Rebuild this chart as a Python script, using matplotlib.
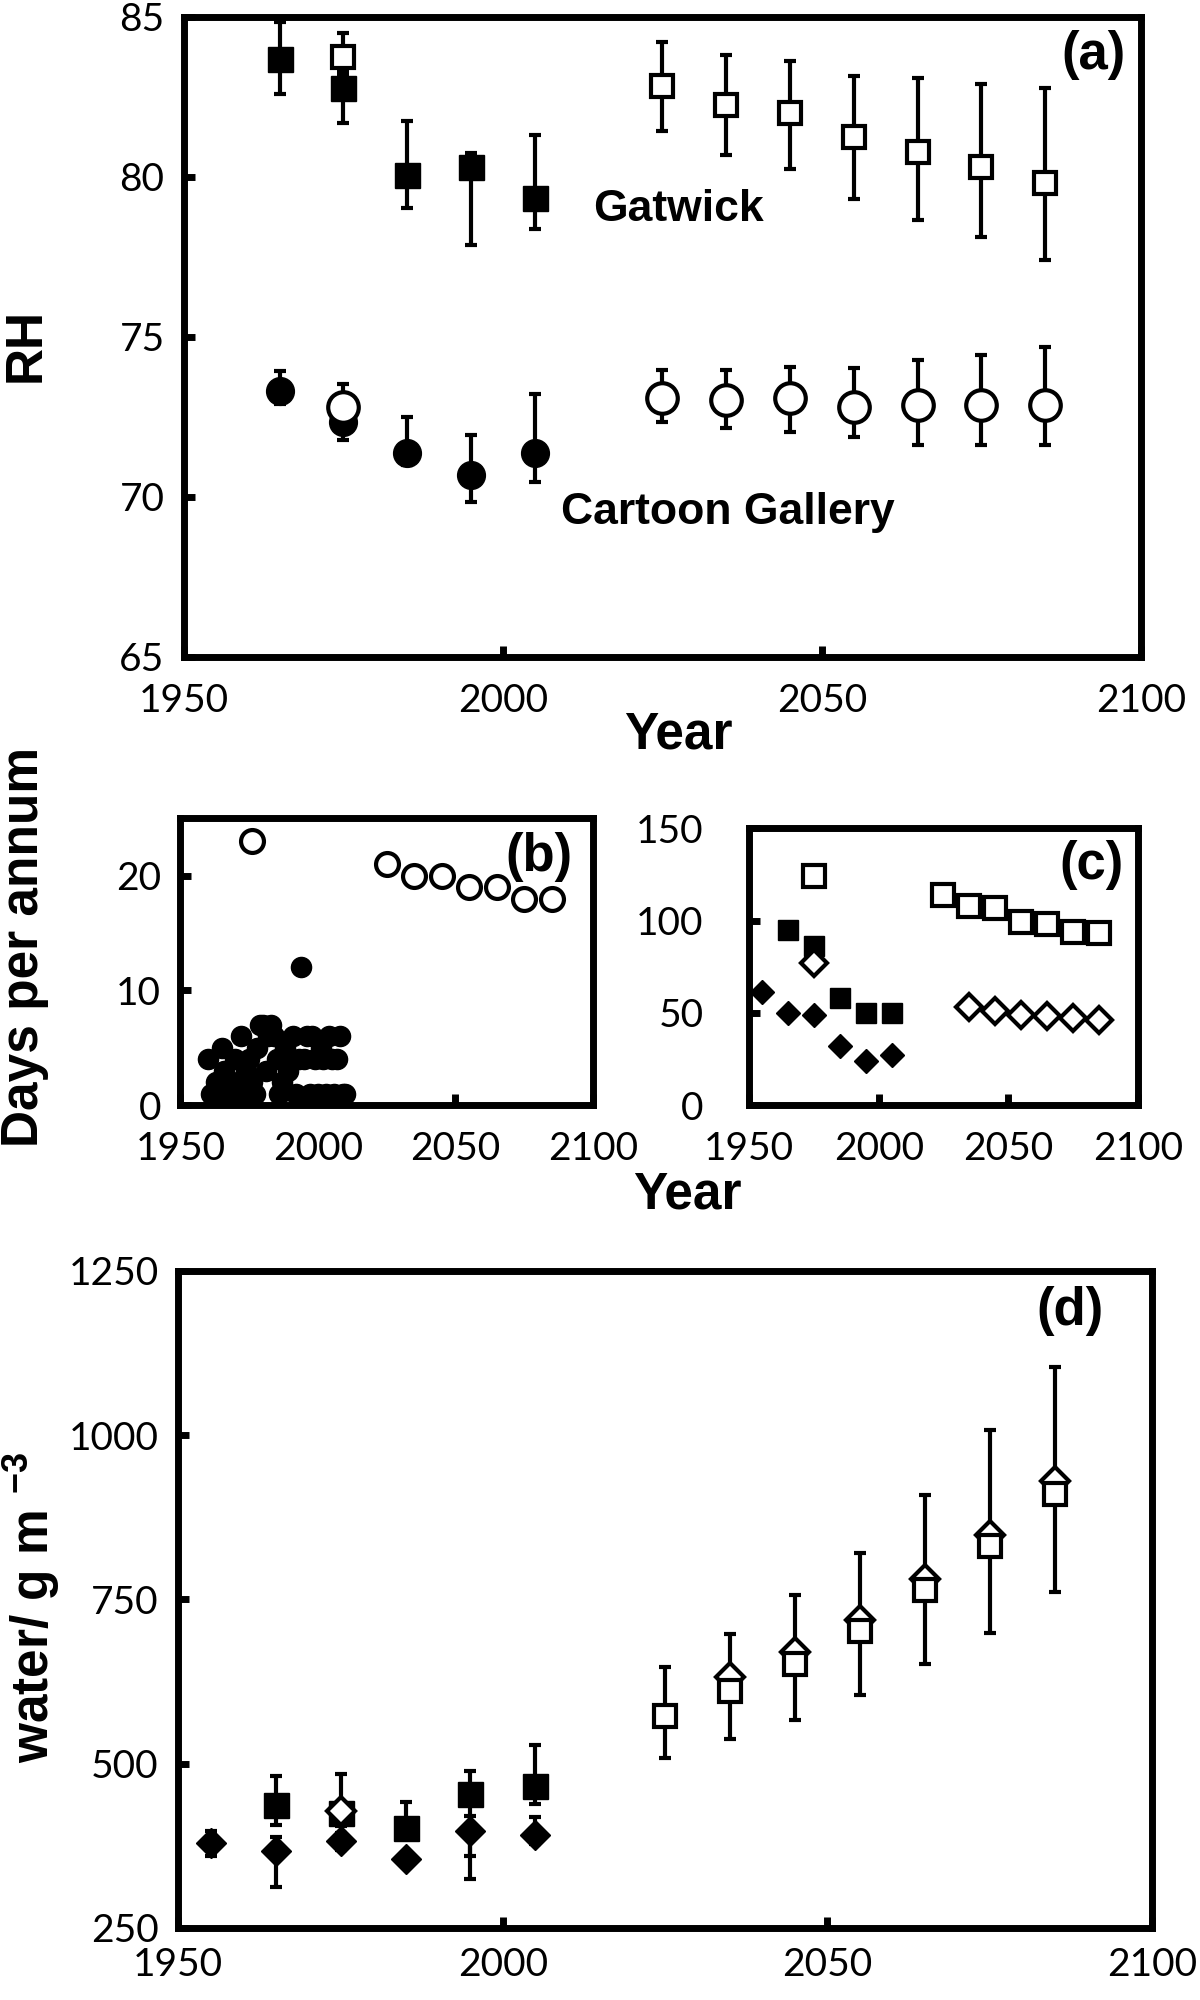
import numpy as np
import matplotlib.pyplot as plt

plt.rcParams['font.family'] = ['Liberation Sans', 'DejaVu Sans']
plt.rcParams['mathtext.fontset'] = 'custom'
plt.rcParams['mathtext.rm'] = 'Liberation Sans'
plt.rcParams['mathtext.bf'] = 'Liberation Sans:bold'

# ---- (a) RH ----
years_past = [1965, 1975, 1985, 1995, 2005]
years_fut = [2025, 2035, 2045, 2055, 2065, 2075, 2085]

gat_past = [83.67, 82.76, 80.05, 80.31, 79.33]
gat_past_lo = [82.58, 81.69, 79.01, 77.87, 78.36]
gat_past_hi = [84.84, 83.3, 81.75, 80.73, 81.30]
gat_open_1975 = [83.75]
gat_open_1975_lo = [83.2]
gat_open_1975_hi = [84.48]
gat_fut = [82.83, 82.24, 81.98, 81.25, 80.78, 80.31, 79.81]
gat_fut_lo = [81.44, 80.66, 80.24, 79.30, 78.65, 78.11, 77.40]
gat_fut_hi = [84.22, 83.80, 83.62, 83.13, 83.07, 82.89, 82.76]

cg_past = [73.31, 72.34, 71.36, 70.68, 71.36]
cg_past_lo = [72.9, 71.77, 71.0, 69.84, 70.47]
cg_past_hi = [73.94, 72.8, 72.5, 71.93, 73.2]
cg_open_1975 = [72.81]
cg_open_1975_lo = [72.4]
cg_open_1975_hi = [73.51]
cg_fut = [73.07, 73.02, 73.07, 72.81, 72.87, 72.87, 72.87]
cg_fut_lo = [72.34, 72.14, 72.03, 71.87, 71.62, 71.62, 71.62]
cg_fut_hi = [73.96, 73.96, 74.06, 74.01, 74.27, 74.42, 74.69]

# ---- (b) days per annum, Cartoon Gallery ----
b_obs_years = list(range(1960, 2011))
b_obs_days = [4, 1, 1, 2, 1, 5, 3, 1, 2, 1, 4, 2, 6, 1, 3, 4, 2, 1, 5, 7,
              7, 3, 6, 7, 6, 4, 1, 2, 5, 3, 4, 6, 1, 4, 12, 4, 6, 1, 6, 4,
              1, 5, 4, 1, 6, 4, 1, 4, 6, 1, 1]
b_open_years = [1976, 2025, 2035, 2045, 2055, 2065, 2075, 2085]
b_open_days = [23, 21, 20, 20, 19, 19, 18, 18]

# ---- (c) days per annum, Gatwick ----
c_dia_years = [1955, 1965, 1975, 1985, 1995, 2005]
c_dia_past = [61, 50, 49, 32, 24, 27]
c_sq_past = [95, 86, 58, 50, 50]
c_open_sq_1975 = [124]
c_open_dia_1975 = [77]
c_sq_fut = [114, 108, 107, 99, 98, 94, 93]
c_dia_fut_years = [2035, 2045, 2055, 2065, 2075, 2085]
c_dia_fut = [53, 51, 49, 48, 47, 46]

# ---- (d) water ----
d_sq_past = [437, 425, 402, 454, 466]
d_sq_past_lo = [407, 405, 388, 360, 439]
d_sq_past_hi = [481, 440, 442, 489, 529]
d_dia_years = [1955, 1965, 1975, 1985, 1995, 2005]
d_dia_past = [380, 367, 382, 355, 397, 391]
d_dia_past_lo = [360, 313, 368, 348, 325, 378]
d_dia_past_hi = [398, 389, 395, 362, 420, 419]
d_open_dia_1975 = [428]
d_open_dia_1975_lo = [415]
d_open_dia_1975_hi = [484]
d_sq_fut = [573, 610, 652, 702, 764, 831, 910]
d_sq_fut_lo = [508, 538, 566, 605, 651, 699, 761]
d_sq_fut_hi = [647, 697, 756, 821, 908, 1007, 1104]
d_dia_fut_years = [2035, 2045, 2055, 2065, 2075, 2085]
d_dia_fut = [632, 670, 719, 781, 848, 930]


def errs(mid, lo, hi):
    mid = np.array(mid, float)
    return [mid - np.array(lo, float), np.array(hi, float) - mid]


eb = dict(ls='none', ecolor='black', elinewidth=3, capsize=4.5, capthick=3)
filled = dict(color='black', mec='black')
hollow = dict(mfc='white', mec='black', mew=3, color='black')


def style(ax, xpad=19, ypad=14):
    for s in ax.spines.values():
        s.set_linewidth(5)
    ax.tick_params(direction='in', length=8, width=5, labelsize=28,
                   labelfontfamily='Lato', top=False, right=False)
    ax.tick_params(axis='x', pad=xpad)
    ax.tick_params(axis='y', pad=ypad)
    ax.set_xlim(1950, 2100)
    ax.set_xticks([1950, 2000, 2050, 2100])


fig = plt.figure(figsize=(12, 20), dpi=100)

# (a)
ax = fig.add_axes([0.1533, 0.6717, 0.7975, 0.32])
style(ax)
ax.set_ylim(65, 85)
ax.set_yticks([65, 70, 75, 80, 85])
ax.errorbar(years_past, gat_past, yerr=errs(gat_past, gat_past_lo, gat_past_hi),
            fmt='s', ms=18, **filled, **eb)
ax.errorbar([1975], gat_open_1975, yerr=errs(gat_open_1975, gat_open_1975_lo, gat_open_1975_hi),
            fmt='s', ms=16, **hollow, **eb)
ax.errorbar(years_fut, gat_fut, yerr=errs(gat_fut, gat_fut_lo, gat_fut_hi),
            fmt='s', ms=16, **hollow, **eb)
ax.errorbar(years_past, cg_past, yerr=errs(cg_past, cg_past_lo, cg_past_hi),
            fmt='o', ms=20, **filled, **eb)
ax.errorbar([1975], cg_open_1975, yerr=errs(cg_open_1975, cg_open_1975_lo, cg_open_1975_hi),
            fmt='o', ms=22, **hollow, **eb)
ax.errorbar(years_fut, cg_fut, yerr=errs(cg_fut, cg_fut_lo, cg_fut_hi),
            fmt='o', ms=22, **hollow, **eb)
ax.text(2014.2, 78.96, 'Gatwick', fontsize=32, fontweight='bold', ha='left', va='center')
ax.text(2009.1, 69.5, 'Cartoon Gallery', fontsize=32, fontweight='bold', ha='left', va='center')
ax.text(0.95, 0.94, '(a)', transform=ax.transAxes, fontsize=38, fontweight='bold',
        ha='center', va='center')
fig.text(0.022, 0.8275, 'RH', rotation=90, fontsize=37, fontweight='bold',
         ha='center', va='center')
fig.text(0.565, 0.6325, 'Year', fontsize=37, fontweight='bold', ha='center', va='center')

# (b)
ax = fig.add_axes([0.1503, 0.4475, 0.3437, 0.14335])
style(ax)
ax.set_ylim(0, 25)
ax.set_yticks([0, 10, 20])
ax.plot(b_obs_years, b_obs_days, 'o', ms=14.5, color='black', ls='none')
ax.plot(b_open_years, b_open_days, 'o', ms=16.5, ls='none', **hollow)
ax.text(0.87, 0.865, '(b)', transform=ax.transAxes, fontsize=38, fontweight='bold',
        ha='center', va='center')
fig.text(0.0205, 0.5265, 'Days per annum', rotation=90, fontsize=37, fontweight='bold',
         ha='center', va='center')

# (c)
ax = fig.add_axes([0.6244, 0.4475, 0.3237, 0.13835])
style(ax, ypad=33)
ax.set_ylim(0, 150)
ax.set_yticks([0, 50, 100, 150])
ax.plot(c_dia_years, c_dia_past, 'D', ms=12.5, color='black', ls='none')
ax.plot(years_past, c_sq_past, 's', ms=15, color='black', ls='none')
ax.plot([1975], c_open_sq_1975, 's', ms=16.5, ls='none', **hollow)
ax.plot([1975], c_open_dia_1975, 'D', ms=13, ls='none', **hollow)
ax.plot(years_fut, c_sq_fut, 's', ms=16.5, ls='none', **hollow)
ax.plot(c_dia_fut_years, c_dia_fut, 'D', ms=13, ls='none', **hollow)
ax.text(0.88, 0.867, '(c)', transform=ax.transAxes, fontsize=38, fontweight='bold',
        ha='center', va='center')
fig.text(0.573, 0.4025, 'Year', fontsize=37, fontweight='bold', ha='center', va='center')

# (d)
ax = fig.add_axes([0.1486, 0.036, 0.8114, 0.32865])
style(ax, xpad=14)
ax.set_ylim(250, 1250)
ax.set_yticks([250, 500, 750, 1000, 1250])
ax.errorbar(d_dia_years, d_dia_past, yerr=errs(d_dia_past, d_dia_past_lo, d_dia_past_hi),
            fmt='D', ms=15.5, **filled, **eb)
ax.errorbar(years_past, d_sq_past, yerr=errs(d_sq_past, d_sq_past_lo, d_sq_past_hi),
            fmt='s', ms=18, **filled, **eb)
ax.errorbar([1975], d_open_dia_1975, yerr=errs(d_open_dia_1975, d_open_dia_1975_lo, d_open_dia_1975_hi),
            fmt='D', ms=14.5, **hollow, **eb)
ax.errorbar(years_fut, d_sq_fut, yerr=errs(d_sq_fut, d_sq_fut_lo, d_sq_fut_hi),
            fmt='s', ms=16.5, **hollow, **eb)
ax.plot(d_dia_fut_years, d_dia_fut, 'D', ms=14.5, ls='none', **hollow)
ax.text(0.916, 0.938, '(d)', transform=ax.transAxes, fontsize=38, fontweight='bold',
        ha='center', va='center')
fig.text(0.026, 0.196, r'water/ g m $^{\mathbf{-3}}$', rotation=90, fontsize=37,
         fontweight='bold', ha='center', va='center')

fig.savefig('out.png', dpi=100)
